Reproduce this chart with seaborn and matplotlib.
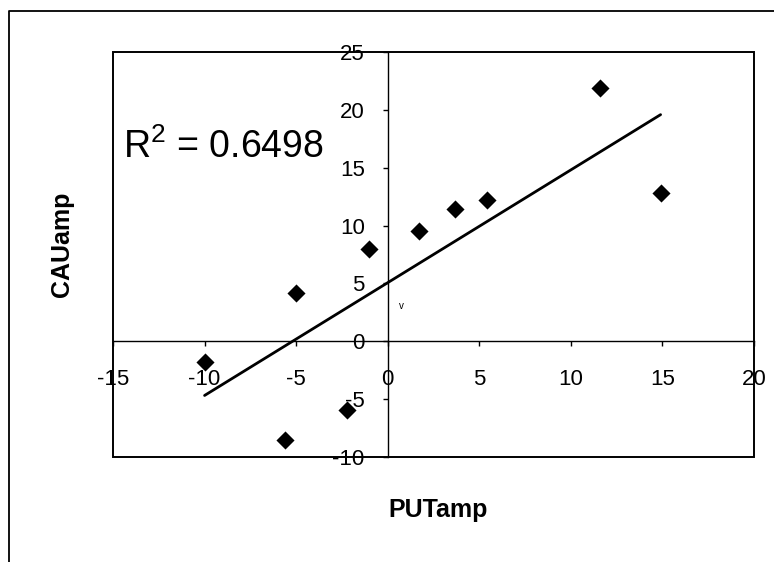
import matplotlib
matplotlib.use("Agg")
import matplotlib.pyplot as plt
from matplotlib.patches import Rectangle
from matplotlib.lines import Line2D
import numpy as np
import pandas as pd
import seaborn as sns

# values
put_amp = [-10.0, -5.0, -5.6, -2.2, -1.0, 1.7, 3.7, 5.4, 11.6, 14.9]
cau_amp = [-1.8, 4.2, -8.5, -5.9, 8.0, 9.5, 11.4, 12.2, 21.9, 12.8]
r2_text = "R$^2$ = 0.6498"
x_ticks = [-15, -10, -5, 0, 5, 10, 15, 20]
y_ticks = [-10, -5, 0, 5, 10, 15, 20, 25]

sns.set_style("white")
plt.rcParams['font.family'] = ['Liberation Sans', 'DejaVu Sans']
plt.rcParams['mathtext.fontset'] = 'custom'
plt.rcParams['mathtext.rm'] = 'Liberation Sans'
plt.rcParams['axes.unicode_minus'] = False
plt.rcParams['text.color'] = 'black'
plt.rcParams['axes.labelcolor'] = 'black'
plt.rcParams['xtick.color'] = 'black'
plt.rcParams['ytick.color'] = 'black'

df = pd.DataFrame({"PUTamp": put_amp, "CAUamp": cau_amp})

fig = plt.figure(figsize=(7.74, 5.62), dpi=100)
ax = fig.add_axes([113/774, 1 - 457/562, 641/774, 405/562])

# trend line + points
sns.regplot(data=df, x="PUTamp", y="CAUamp", ax=ax, ci=None, truncate=True,
            scatter=False, line_kws={"color": "black", "lw": 2.0})
sns.scatterplot(data=df, x="PUTamp", y="CAUamp", ax=ax, marker="D", s=85,
                color="black", edgecolor="black", linewidth=0)

ax.set_xlim(-15, 20)
ax.set_ylim(-10, 25)
ax.set_xticks(x_ticks)
ax.set_yticks(y_ticks)

# axes cross at the origin, Excel style
ax.spines['left'].set_position(('data', 0))
ax.spines['bottom'].set_position(('data', 0))
for side in ['left', 'bottom']:
    ax.spines[side].set_linewidth(1.0)
    ax.spines[side].set_color('black')
for side in ['top', 'right']:
    ax.spines[side].set_visible(False)
ax.add_patch(Rectangle((0, 0), 1, 1, transform=ax.transAxes, fill=False,
                       lw=1.4, edgecolor='black', clip_on=False))

ax.tick_params(axis='x', direction='out', length=3.6, width=1, pad=16,
               labelsize=16, colors='black')
ax.tick_params(axis='y', direction='out', length=3.6, width=1, pad=13,
               labelsize=16, colors='black')
ax.xaxis.set_ticks_position('bottom')
ax.yaxis.set_ticks_position('left')

ax.set_xlabel("PUTamp", fontsize=18, fontweight='bold', color='black')
ax.set_ylabel("CAUamp", fontsize=18, fontweight='bold', color='black')
ax.xaxis.set_label_coords((438 - 113) / 641, (457 - 510) / 405)
ax.xaxis.label.set_va('center')
ax.yaxis.set_label_coords((62 - 113) / 641, (457 - 244) / 405)
ax.yaxis.label.set_va('center')

ax.text(0.016, 0.738, r2_text, transform=ax.transAxes, fontsize=27,
        ha='left', va='baseline', color='black')
ax.text(0.77, 3.05, "v", fontsize=7, ha='center', va='center', color='black')

# scanned outer chart border (top and left only)
fig.add_artist(Line2D([9/774, 9/774, 1], [0, 1 - 11/562, 1 - 11/562],
                      transform=fig.transFigure, color='black', lw=1.3))

fig.savefig("out.png", dpi=100)
